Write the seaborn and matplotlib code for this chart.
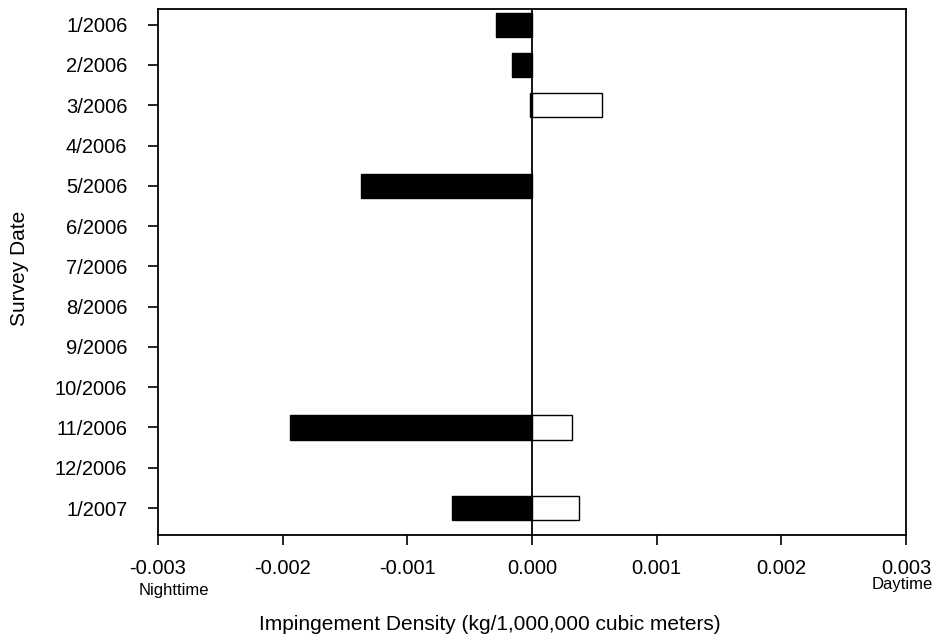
import matplotlib
matplotlib.use("Agg")
import matplotlib.pyplot as plt
import seaborn as sns
import pandas as pd
import numpy as np

dates = ["1/2006", "2/2006", "3/2006", "4/2006", "5/2006", "6/2006", "7/2006",
         "8/2006", "9/2006", "10/2006", "11/2006", "12/2006", "1/2007"]
nighttime = [-0.00029, -0.00016, -0.000016, np.nan, -0.00137, np.nan, np.nan,
             np.nan, np.nan, np.nan, -0.00194, np.nan, -0.00064]
daytime = [np.nan, np.nan, 0.00056, np.nan, np.nan, np.nan, np.nan,
           np.nan, np.nan, np.nan, 0.00032, np.nan, 0.00038]
xticks = [-0.003, -0.002, -0.001, 0.000, 0.001, 0.002, 0.003]

sns.set_style("white")
plt.rcParams['font.family'] = ['Liberation Sans', 'DejaVu Sans']
plt.rcParams['text.color'] = 'black'

df = pd.DataFrame({"date": dates, "night": nighttime, "day": daytime})
df_night = df.dropna(subset=["night"])
df_day = df.dropna(subset=["day"])

fig = plt.figure(figsize=(9.36, 6.43), dpi=100)
ax = fig.add_axes([158/936, 1-535/643, (906-158)/936, (535-9)/643])

sns.barplot(data=df_night, x="night", y="date", order=dates, orient="h", color="black",
            edgecolor="black", linewidth=1, width=0.6, saturation=1, ax=ax)
sns.barplot(data=df_day, x="day", y="date", order=dates, orient="h", color="white",
            edgecolor="black", linewidth=1, width=0.6, saturation=1, ax=ax)

ax.axvline(0, color="black", lw=1.3, zorder=5)
ax.set_xlim(-0.003, 0.003)
ax.set_ylim(12.67, -0.39)
ax.set_xticks(xticks)
ax.set_xticklabels([f"{v:.3f}" for v in xticks])

for s in ax.spines.values():
    s.set_visible(True)
    s.set_color("black")
    s.set_linewidth(1.3)

ax.tick_params(axis="both", which="both", direction="out", length=7, width=1.2,
               color="black", labelsize=14.5, labelcolor="black")
ax.tick_params(axis="y", pad=15)
ax.tick_params(axis="x", pad=10)
ax.xaxis.set_ticks_position("bottom")
ax.yaxis.set_ticks_position("left")

ax.set_xlabel("")
ax.set_ylabel("")
fig.text(20/936, 1-268/643, "Survey Date", rotation=90, color="black",
         ha="center", va="center", fontsize=15)
fig.text(490/936, 1-624/643, "Impingement Density (kg/1,000,000 cubic meters)",
         ha="center", va="center", fontsize=15, color="black")
fig.text(174/936, 1-591/643, "Nighttime", ha="center", va="center", fontsize=12, color="black")
fig.text(902/936, 1-585/643, "Daytime", ha="center", va="center", fontsize=12, color="black")

fig.savefig("out.png", dpi=100)
